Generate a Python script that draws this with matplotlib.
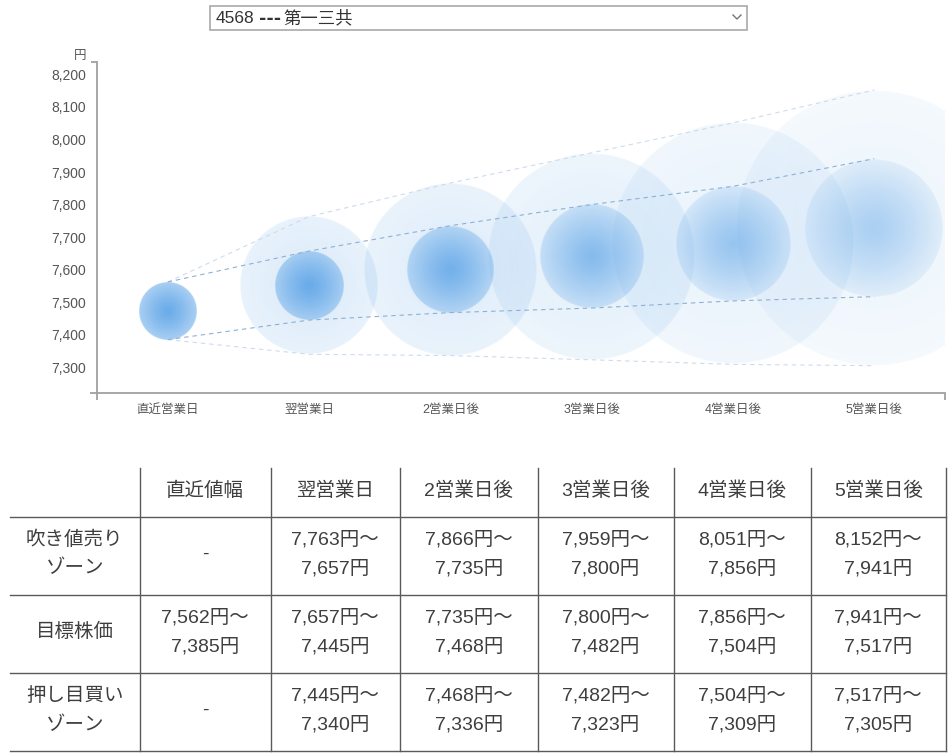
import numpy as np
import matplotlib
matplotlib.use("Agg")
import matplotlib.pyplot as plt
from matplotlib.patches import Rectangle

plt.rcParams['font.family'] = ['Liberation Sans', 'Noto Sans CJK JP']

# ---------------------------------------------------------------------
# Data
# ---------------------------------------------------------------------
ticker_code = "4568"
company = "第一三共"

days = ["直近営業日", "翌営業日", "2営業日後", "3営業日後", "4営業日後", "5営業日後"]
table_cols = ["直近値幅", "翌営業日", "2営業日後", "3営業日後", "4営業日後", "5営業日後"]
row_labels = [["吹き値売り", "ゾーン"], ["目標株価"], ["押し目買い", "ゾーン"]]

# target range (inner bubbles)
target_hi = [7562, 7657, 7735, 7800, 7856, 7941]
target_lo = [7385, 7445, 7468, 7482, 7504, 7517]
# outer range (sell zone top / buy zone bottom), nothing for the latest day
sell_hi = [None, 7763, 7866, 7959, 8051, 8152]
buy_lo = [None, 7340, 7336, 7323, 7309, 7305]

y_ticks = [7300, 7400, 7500, 7600, 7700, 7800, 7900, 8000, 8100, 8200]

# ---------------------------------------------------------------------
# Layout / style
# ---------------------------------------------------------------------
W, H = 952, 755
ax_left, ax_right, ax_top, ax_bottom = 97, 945, 62, 393
y_min, y_max = 7221, 8238

base_rgb = (0.30, 0.61, 0.90)
inner_a = [(0.84, 0.48), (0.80, 0.40), (0.74, 0.32), (0.62, 0.22), (0.52, 0.15), (0.42, 0.10)]
outer_a = [None, (0.20, 0.13), (0.19, 0.12), (0.16, 0.10), (0.13, 0.08), (0.10, 0.06)]

tick_col = "#555555"
text_col = "#3e3e3e"
line_col = "#5a5a5a"

fig = plt.figure(figsize=(W / 100, H / 100), dpi=100)
ax = fig.add_axes([ax_left / W, 1 - ax_bottom / H,
                   (ax_right - ax_left) / W, (ax_bottom - ax_top) / H])

px_per_yen = (ax_bottom - ax_top) / (y_max - y_min)
px_per_cat = (ax_right - ax_left) / len(days)


# ---------------------------------------------------------------------
# FUNCTION: radial gradient bubble spanning lo..hi (round on screen)
# ---------------------------------------------------------------------
def bubble(x, lo, hi, a_center, a_edge, z):
    yc = (lo + hi) / 2
    ry = (hi - lo) / 2
    rx = ry * px_per_yen / px_per_cat
    n = 400
    u = np.linspace(-1, 1, n)
    uu, vv = np.meshgrid(u, u)
    r = np.sqrt(uu ** 2 + vv ** 2)
    alpha = a_center + (a_edge - a_center) * np.clip(r, 0, 1) ** 1.2
    edge = np.clip((1 - r) * n / 3, 0, 1)
    rgba = np.zeros((n, n, 4))
    rgba[..., 0], rgba[..., 1], rgba[..., 2] = base_rgb
    rgba[..., 3] = alpha * edge
    ax.imshow(rgba, extent=(x - rx, x + rx, yc - ry, yc + ry),
              aspect='auto', interpolation='bilinear', zorder=z)


xs = list(range(len(days)))
for i in xs:
    if sell_hi[i] is not None:
        bubble(i, buy_lo[i], sell_hi[i], *outer_a[i], z=1 + i * 0.1)
for i in xs:
    bubble(i, target_lo[i], target_hi[i], *inner_a[i], z=2 + i * 0.1)

# dashed guide lines
outer_top = [target_hi[0]] + sell_hi[1:]
outer_bot = [target_lo[0]] + buy_lo[1:]
dash = (0, (4, 3.5))
ax.plot(xs, outer_top, color="#cddcec", lw=0.8, ls=dash, zorder=3)
ax.plot(xs, outer_bot, color="#cddcec", lw=0.8, ls=dash, zorder=3)
ax.plot(xs, target_hi, color="#8eb0d6", lw=0.8, ls=dash, zorder=3)
ax.plot(xs, target_lo, color="#8eb0d6", lw=0.8, ls=dash, zorder=3)

ax.set_xlim(-0.5, len(days) - 0.5)
ax.set_ylim(y_min, y_max)
ax.set_xticks(xs)
ax.set_xticklabels(days)
ax.set_yticks(y_ticks)
ax.set_yticklabels([f"{v:,}" for v in y_ticks])
ax.tick_params(axis='x', length=0, pad=8, labelsize=9, labelcolor=tick_col)
ax.tick_params(axis='y', length=0, pad=8, labelsize=10, labelcolor=tick_col)
for s in ["top", "right"]:
    ax.spines[s].set_visible(False)
for s in ["left", "bottom"]:
    ax.spines[s].set_color("#a0a0a0")
    ax.spines[s].set_linewidth(1.3)
ax.set_facecolor("none")

# ---------------------------------------------------------------------
# Overlay in pixel coordinates: dropdown, axis stubs, table
# ---------------------------------------------------------------------
ov = fig.add_axes([0, 0, 1, 1])
ov.set_xlim(0, W)
ov.set_ylim(H, 0)
ov.axis("off")

# dropdown box
ov.add_patch(Rectangle((210, 6), 537, 24, fill=False, edgecolor="#a9a9a9", lw=1.2))
ov.text(216, 18.5, ticker_code, fontsize=12.5, color="#333333", va="center")
ov.text(259, 18.5, "---", fontsize=12.5, color="#333333", va="center",
        fontweight="bold", family="DejaVu Sans")
ov.text(283, 18.5, company, fontsize=12.5, color="#333333", va="center")
ov.plot([733, 737, 741], [15, 19, 15], color="#777777", lw=1)

# axis stubs and unit
stub = dict(color="#a0a0a0", lw=1.3, solid_capstyle="butt")
ov.plot([90, ax_left], [ax_bottom, ax_bottom], **stub)
ov.plot([ax_left, ax_left], [ax_bottom, 400], **stub)
ov.plot([ax_right, ax_right], [ax_bottom, 400], **stub)
ov.plot([91, ax_left], [ax_top, ax_top], **stub)
ov.text(80, 56, "円", fontsize=9, color=tick_col, ha="center", va="center")

# table grid
col_edges = [10, 139.5, 270.5, 400, 537.5, 673.5, 810.5, 946]
row_edges = [468, 516.5, 594.5, 673, 751]
for y in row_edges[1:]:
    ov.plot([col_edges[0], col_edges[-1]], [y, y], color=line_col, lw=1)
for x in col_edges[1:]:
    ov.plot([x, x], [row_edges[0], row_edges[-1]], color=line_col, lw=1)

centers_x = [(a + b) / 2 for a, b in zip(col_edges[:-1], col_edges[1:])]
centers_y = [(a + b) / 2 - 1.5 for a, b in zip(row_edges[:-1], row_edges[1:])]
fs = 14


def cell(col, row, lines):
    cy = centers_y[row]
    if len(lines) == 1:
        ov.text(centers_x[col], cy, lines[0], fontsize=fs, color=text_col,
                ha="center", va="center")
    else:
        ov.text(centers_x[col], cy - 14.5, lines[0], fontsize=fs, color=text_col,
                ha="center", va="center")
        ov.text(centers_x[col], cy + 14.5, lines[1], fontsize=fs, color=text_col,
                ha="center", va="center")


for j, name in enumerate(table_cols):
    cell(j + 1, 0, [name])
for r, lab in enumerate(row_labels):
    cell(0, r + 1, lab)

for i in xs:
    # sell zone
    if sell_hi[i] is None:
        cell(i + 1, 1, ["-"])
    else:
        cell(i + 1, 1, [f"{sell_hi[i]:,}円～", f"{target_hi[i]:,}円"])
    # target
    cell(i + 1, 2, [f"{target_hi[i]:,}円～", f"{target_lo[i]:,}円"])
    # buy zone
    if buy_lo[i] is None:
        cell(i + 1, 3, ["-"])
    else:
        cell(i + 1, 3, [f"{target_lo[i]:,}円～", f"{buy_lo[i]:,}円"])

fig.savefig("out.png", dpi=100, facecolor="white")
